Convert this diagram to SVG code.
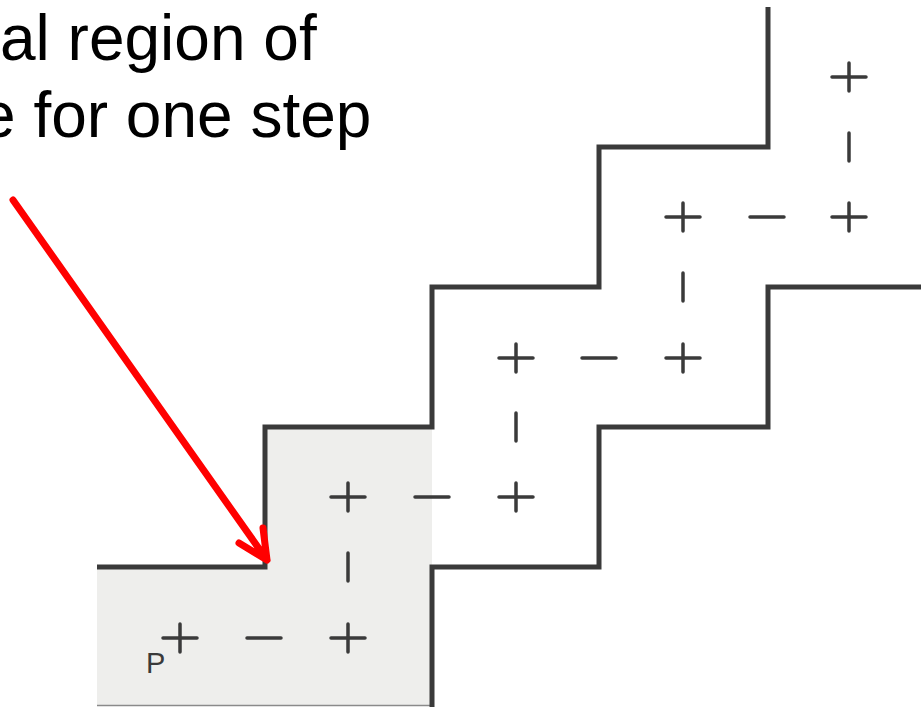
<svg xmlns="http://www.w3.org/2000/svg" width="921" height="707" viewBox="0 0 921 707">
<style>
.wall{fill:none;stroke:#3a3a3a;stroke-width:5;stroke-linejoin:miter;stroke-linecap:butt}
.sym{fill:none;stroke:#3a3a3a;stroke-width:3.5;stroke-linecap:round}
.cap{font-family:"Liberation Sans",Arial,sans-serif;font-size:64px;fill:#000}
.lbl{font-family:"Liberation Sans",Arial,sans-serif;font-size:29px;fill:#3a3a3a}
.arrow{fill:none;stroke:#ff0000;stroke-width:7;stroke-linecap:round;stroke-linejoin:round}
</style>
<defs>
<path id="plus" class="sym" d="M-17,0H17M0,-14V14"/>
<path id="minus" class="sym" d="M-17,0H17"/>
<path id="bar" class="sym" d="M0,-14V14"/>
</defs>
<rect width="921" height="707" fill="#fff"/>
<g id="region">
<polygon points="97,567 265,567 265,427 432,427 432,705 97,705" fill="#eeeeec"/>
<line x1="97" y1="705.5" x2="430" y2="705.5" stroke="#8a8a8a" stroke-width="1.5"/>
</g>
<g id="walls">
<polyline class="wall" points="97,567 265,567 265,427 432,427 432,287 599,287 599,147 768,147 768,7"/>
<polyline class="wall" points="432,707 432,567 599,567 599,427 768,427 768,287 921,287"/>
</g>
<g id="symbols">
<use href="#plus" x="180" y="638"/>
<use href="#minus" x="264" y="638"/>
<use href="#plus" x="348" y="638"/>
<use href="#bar" x="348" y="567"/>
<use href="#plus" x="348" y="497"/>
<use href="#minus" x="432" y="497"/>
<use href="#plus" x="516" y="497"/>
<use href="#bar" x="516" y="427"/>
<use href="#plus" x="516" y="358"/>
<use href="#minus" x="599" y="358"/>
<use href="#plus" x="683" y="358"/>
<use href="#bar" x="683" y="287"/>
<use href="#plus" x="683" y="217"/>
<use href="#minus" x="767" y="217"/>
<use href="#plus" x="849" y="217"/>
<use href="#bar" x="849" y="147"/>
<use href="#plus" x="849" y="77"/>
</g>
<g id="label-p">
<text class="lbl" x="146" y="673">P</text>
</g>
<g id="caption">
<text class="cap" x="0" y="60">al region of</text>
<text class="cap" x="-20" y="137">e for one step</text>
</g>
<g id="connectors">
<path class="arrow" d="M13,200L267,560M239,543L267,560L263,528"/>
</g>
</svg>
